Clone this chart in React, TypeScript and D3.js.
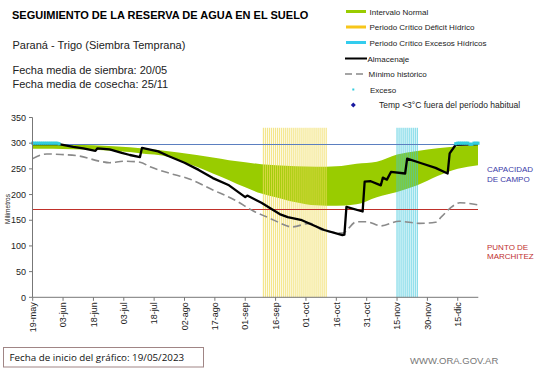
import React from 'react';
import * as d3 from 'd3';

const W = 541;
const H = 368;

const parse = d3.timeParse('%Y-%m-%d');
const startDate = parse('2023-05-19') as Date;
const endDate = parse('2023-12-25') as Date;

const tickDates = [
  '2023-05-19', '2023-06-03', '2023-06-18', '2023-07-03', '2023-07-18',
  '2023-08-02', '2023-08-17', '2023-09-01', '2023-09-16', '2023-10-01',
  '2023-10-16', '2023-10-31', '2023-11-15', '2023-11-30', '2023-12-15',
];
const monthsEs = ['ene', 'feb', 'mar', 'abr', 'may', 'jun', 'jul', 'ago', 'sep', 'oct', 'nov', 'dic'];
const yTicks = [0, 50, 100, 150, 200, 250, 300, 350];

// intervalo normal (dias desde el inicio)
const normalDays = [0, 10, 20, 30, 40, 48, 56, 64, 72, 81, 89, 97, 105, 113, 120, 130, 140, 150, 160, 170, 180, 190, 200, 210, 220];
const normalUpper = [299, 298, 297, 296, 294, 292, 289, 286, 282, 277, 272, 267, 263, 259, 257, 255, 254, 255, 260, 264, 278, 285, 290, 294, 297];
const normalLower = [289, 289, 288, 287, 285, 283, 279, 276, 267, 254, 241, 228, 214, 202, 195, 185, 179, 178, 181, 195, 205, 218, 236, 250, 257];

// almacenaje [dia, mm]
const almacenaje: [number, number][] = [
  [0, 298], [13, 298], [20, 293], [25, 290], [31, 285], [32, 290], [38, 288], [44, 281],
  [48, 277], [53, 273], [54, 291], [62, 284], [67, 275], [75, 262], [82, 248], [89, 232],
  [97, 218], [105, 195], [106, 198], [113, 184], [122, 162], [126, 156], [133, 150],
  [144, 131], [153, 121], [154, 122], [155, 176], [163, 167], [164, 225], [167, 226],
  [172, 218], [173, 233], [175, 229], [177, 244], [184, 241], [185, 270], [192, 261],
  [199, 252], [205, 241], [206, 280], [209, 297], [220, 298],
];

// minimo historico [dia, mm]
const minimoHistorico: [number, number][] = [
  [0, 270], [4, 277], [7, 279], [14, 278], [23, 275], [33, 265], [38, 262], [45, 265],
  [53, 263], [58, 254], [68, 241], [77, 231], [89, 209], [100, 189], [109, 168], [117, 154],
  [122, 145], [128, 137], [137, 144], [143, 131], [153, 125], [160, 147], [165, 147],
  [172, 139], [181, 148], [191, 144], [199, 146], [202, 157], [207, 176], [211, 184], [220, 180],
];

// exceso [dia, mm]
const exceso: [number, number][] = [
  [0, 300], [1, 300], [2, 300], [3, 300], [4, 300], [5, 300], [6, 300], [7, 300],
  [8, 300], [9, 300], [10, 300], [11, 300], [12, 300], [13, 299],
  [209, 299], [210, 300], [211, 300], [212, 300], [213, 300], [214, 300], [215, 300],
  [216, 298], [217, 298], [218, 300], [219, 300], [220, 300],
];

const deficitPeriod = ['2023-09-10', '2023-10-11'];
const excesoPeriod = ['2023-11-15', '2023-11-25'];
const periodTop = 330;
const capacidadCampo = 298;
const puntoMarchitez = 171;

const FONT = 'Liberation Sans, Arial, sans-serif';

export default function App() {
  const x = d3.scaleTime().domain([startDate, endDate]).range([32.7, 478]);
  const y = d3.scaleLinear().domain([0, 350]).range([297.3, 117.5]);
  const day = (d: number) => d3.timeDay.offset(startDate, d);
  const snap = (v: number) => Math.round(v) + 0.5;

  const band = normalDays.map((d, i) => ({ d, hi: normalUpper[i], lo: normalLower[i] }));
  const area = d3
    .area<{ d: number; hi: number; lo: number }>()
    .x(p => x(day(p.d)))
    .y0(p => y(p.lo))
    .y1(p => y(p.hi))
    .curve(d3.curveMonotoneX);

  const minPath =
    d3.line<[number, number]>().x(p => x(day(p[0]))).y(p => y(p[1])).curve(d3.curveMonotoneX)(minimoHistorico) ?? '';
  const almPath = d3.line<[number, number]>().x(p => x(day(p[0]))).y(p => y(p[1]))(almacenaje) ?? '';

  const dayW = x(day(1)) - x(day(0));
  const periodBars = (p: string[]) =>
    d3.timeDay.range(parse(p[0]) as Date, d3.timeDay.offset(parse(p[1]) as Date, 1));

  const fmt = (s: string) => {
    const dt = parse(s) as Date;
    return `${String(dt.getDate()).padStart(2, '0')}-${monthsEs[dt.getMonth()]}`;
  };

  const legendX = 346;
  const legendRows = [11.5, 27, 42.5, 58.5, 74, 89.5, 105];

  return (
    <svg width={W} height={H} style={{ position: 'absolute', left: 0, top: 0, background: '#fff' }}>
      <rect width={W} height={H} fill="#fff" />

      <text x={12} y={19} fontFamily={FONT} fontWeight="bold" fontSize={11}>
        SEGUIMIENTO DE LA RESERVA DE AGUA  EN EL SUELO
      </text>
      <text x={12.5} y={48.5} fontFamily={FONT} fontSize={11} fill="#222">Paraná - Trigo (Siembra Temprana)</text>
      <text x={12.5} y={74} fontFamily={FONT} fontSize={11} fill="#222">Fecha media de siembra: 20/05</text>
      <text x={12.5} y={87.5} fontFamily={FONT} fontSize={11} fill="#222">Fecha media de cosecha: 25/11</text>

      {/* legend */}
      <g fontFamily={FONT} fontSize={8} fill="#222">
        <rect x={legendX} y={legendRows[0] - 1.5} width={20} height={3} fill="#99cc00" />
        <text x={369.5} y={legendRows[0] + 3}>Intervalo Normal</text>
        <rect x={legendX} y={legendRows[1] - 1.5} width={20} height={3} fill="#f7c61a" />
        <text x={369.5} y={legendRows[1] + 3}>Periodo Crítico Déficit Hídrico</text>
        <rect x={legendX} y={legendRows[2] - 1.5} width={20} height={3} fill="#33ccee" />
        <text x={369.5} y={legendRows[2] + 3}>Periodo Crítico Excesos Hídricos</text>
        <line x1={345} x2={367} y1={legendRows[3]} y2={legendRows[3]} stroke="#000" strokeWidth={2} />
        <text x={367.5} y={legendRows[3] + 3}>Almacenaje</text>
        <line x1={345} x2={366} y1={legendRows[4]} y2={legendRows[4]} stroke="#888" strokeWidth={1.5} strokeDasharray="7,4" />
        <text x={368.5} y={legendRows[4] + 3}>Mínimo histórico</text>
        <rect x={352.3} y={legendRows[5] - 1} width={2} height={2} fill="#33ccdd" />
        <text x={370} y={legendRows[5] + 3}>Exceso</text>
        <path
          d={`M353.3,${legendRows[6] - 2.5}L355.8,${legendRows[6]}L353.3,${legendRows[6] + 2.5}L350.8,${legendRows[6]}Z`}
          fill="#1a1aa0"
        />
        <text x={379} y={legendRows[6] + 3} fontSize={8.5}>Temp &lt;3°C fuera del período habitual</text>
      </g>

      {/* normal band */}
      <path d={area(band) ?? ''} fill="#99cc00" />

      {/* critical periods */}
      {periodBars(deficitPeriod).map((dt, i) => (
        <rect
          key={`d${i}`}
          x={x(dt) - dayW * 0.3}
          y={y(periodTop)}
          width={dayW * 0.6}
          height={y(0) - y(periodTop)}
          fill="#efdc5a"
          opacity={0.7}
        />
      ))}
      {periodBars(excesoPeriod).map((dt, i) => (
        <rect
          key={`e${i}`}
          x={x(dt) - dayW * 0.3}
          y={y(periodTop)}
          width={dayW * 0.6}
          height={y(0) - y(periodTop)}
          fill="#3cc6dc"
          opacity={0.65}
        />
      ))}

      {/* reference lines */}
      <line x1={32.7} x2={478} y1={snap(y(capacidadCampo))} y2={snap(y(capacidadCampo))} stroke="#5b7fc0" strokeWidth={1} />
      <line x1={32.7} x2={478} y1={snap(y(puntoMarchitez))} y2={snap(y(puntoMarchitez))} stroke="#c0302a" strokeWidth={1} />

      <path d={minPath} fill="none" stroke="#8a8a8a" strokeWidth={1.6} strokeDasharray="8,4" />
      <path d={almPath} fill="none" stroke="#000" strokeWidth={2.3} strokeLinejoin="round" />

      {exceso.map((p, i) => (
        <rect key={`x${i}`} x={x(day(p[0])) - 1.5} y={y(p[1]) - 1.6} width={dayW + 1} height={3.2} fill="#33ccdd" />
      ))}

      {/* axes */}
      <g fontFamily={FONT} fontSize={9} fill="#222">
        <line x1={32.5} x2={32.5} y1={y(350)} y2={y(0)} stroke="#777" />
        {yTicks.map(t => (
          <g key={t}>
            <line x1={29} x2={32.5} y1={y(t)} y2={y(t)} stroke="#777" />
            <text x={26} y={y(t) + 3.2} textAnchor="end">{t}</text>
          </g>
        ))}
        <line x1={32.5} x2={478.3} y1={y(0)} y2={y(0)} stroke="#777" />
        {tickDates.map(t => {
          const px = x(parse(t) as Date);
          return (
            <g key={t}>
              <line x1={px} x2={px} y1={y(0)} y2={y(0) + 3.5} stroke="#777" />
              <text transform={`translate(${px + 3.2},${y(0) + 5}) rotate(-90)`} textAnchor="end">
                {fmt(t)}
              </text>
            </g>
          );
        })}
        <text transform="translate(9.5,209) rotate(-90)" textAnchor="middle" fontSize={6.5}>Milímetros</text>
      </g>

      {/* right labels */}
      <g fontFamily={FONT} fontSize={8}>
        <text x={487} y={172} fill="#3b3ba8">CAPACIDAD</text>
        <text x={487} y={181.5} fill="#3b3ba8">DE  CAMPO</text>
        <text x={487} y={249.5} fill="#c03030">PUNTO  DE</text>
        <text x={487} y={258.5} fill="#c03030">MARCHITEZ</text>
      </g>

      {/* footer */}
      <rect x={3.5} y={347.5} width={200} height={19.5} fill="#fff" stroke="#a08585" strokeWidth={1} />
      <text x={9.5} y={361} fontFamily="Open Sans, Liberation Sans, sans-serif" fontSize={9.8} fill="#111">
        Fecha de inicio del gráfico:   19/05/2023
      </text>
      <text x={410} y={364} fontFamily={FONT} fontSize={9.5} fill="#777">WWW.ORA.GOV.AR</text>
    </svg>
  );
}
